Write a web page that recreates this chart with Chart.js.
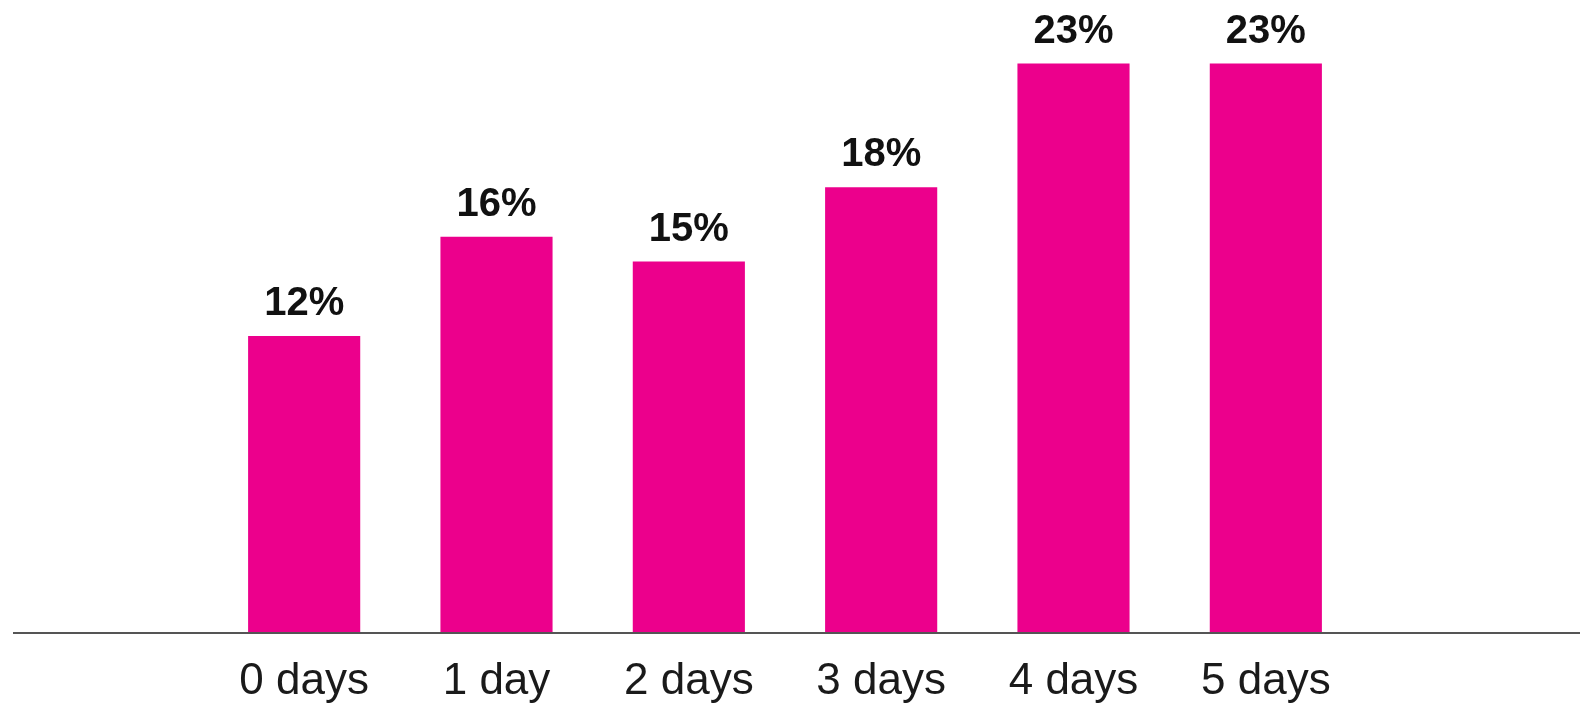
<!DOCTYPE html>
<html>
<head>
<meta charset="utf-8">
<script src="https://cdn.jsdelivr.net/npm/chart.js@4"></script>
<style>
  html, body { margin: 0; padding: 0; background: #fff; overflow: hidden; }
  #wrap { width: 1582px; height: 704px; position: relative; }
  canvas { display: block; }
</style>
</head>
<body>
<div id="wrap"><canvas id="daysChart"></canvas></div>
<script>
const categories = ['0 days', '1 day', '2 days', '3 days', '4 days', '5 days'];
const shares = [12, 16, 15, 18, 23, 23];

// value labels above bars + full-width baseline
const barLabels = {
    id: 'barLabels',
    afterDatasetsDraw(chart) {
        const ctx = chart.ctx;
        const meta = chart.getDatasetMeta(0);
        ctx.save();
        ctx.font = 'bold 40px "Liberation Sans", Arial, sans-serif';
        ctx.fillStyle = '#111';
        ctx.textAlign = 'center';
        ctx.textBaseline = 'alphabetic';
        meta.data.forEach((bar, i) => {
            ctx.fillText(shares[i] + '%', bar.x, bar.y - 21);
        });
        const y = chart.scales.y.getPixelForValue(0);
        ctx.strokeStyle = '#555';
        ctx.lineWidth = 2;
        ctx.beginPath();
        ctx.moveTo(13, y);
        ctx.lineTo(chart.width - 2, y);
        ctx.stroke();
        ctx.restore();
    }
};

const ctx = document.getElementById('daysChart').getContext('2d');
const daysChart = new Chart(ctx, {
    type: 'bar',
    data: {
        labels: categories,
        datasets: [{
            data: shares,
            backgroundColor: '#EC008C',
            barPercentage: 0.583,
            categoryPercentage: 1
        }]
    },
    options: {
        responsive: true,
        maintainAspectRatio: false,
        animation: false,
        layout: { padding: { top: 14, left: 208, right: 220, bottom: 0 } },
        plugins: { legend: { display: false }, tooltip: { enabled: false } },
        scales: {
            x: {
                grid: { display: false, drawTicks: false },
                border: { display: false },
                afterFit(scale) { scale.height = 71; },
                ticks: {
                    padding: 22,
                    maxRotation: 0,
                    color: '#1a1a1a',
                    font: { family: '"Liberation Sans", Arial, sans-serif', size: 44 }
                }
            },
            y: {
                display: false,
                min: 0,
                max: 25
            }
        }
    },
    plugins: [barLabels]
});
</script>
</body>
</html>
